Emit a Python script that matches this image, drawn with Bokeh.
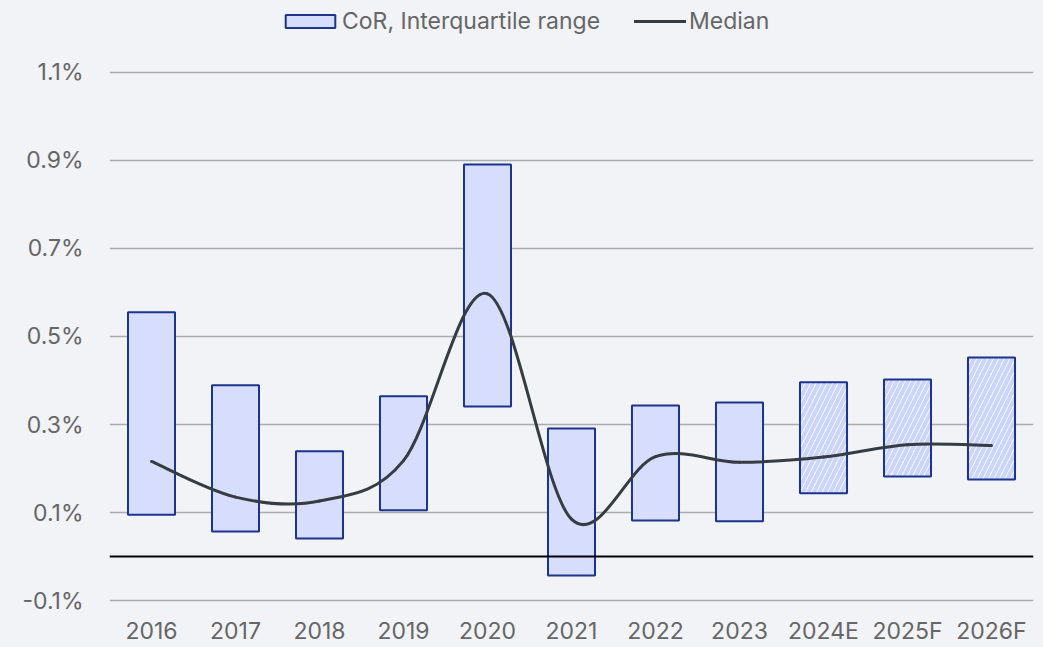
from bokeh.plotting import figure
from bokeh.models import (FixedTicker, PrintfTickFormatter, Span, Legend, LegendItem,
                          Range1d, ColumnDataSource)
from bokeh.embed import file_html
from bokeh.resources import INLINE

# ---------------- data ----------------
years = ["2016", "2017", "2018", "2019", "2020", "2021", "2022", "2023",
         "2024E", "2025F", "2026F"]
q1 = [0.095, 0.057, 0.041, 0.105, 0.341, -0.043, 0.082, 0.080, 0.144, 0.182, 0.175]
q3 = [0.555, 0.389, 0.239, 0.364, 0.891, 0.291, 0.343, 0.350, 0.396, 0.402, 0.452]
median = [0.216, 0.135, 0.126, 0.218, 0.597, 0.085, 0.227, 0.214, 0.226, 0.254, 0.252]
is_forecast = [False] * 8 + [True] * 3
y_ticks = [-0.1, 0.1, 0.3, 0.5, 0.7, 0.9, 1.1]

BG = "#f1f3f7"
TXT = "#666666"
FONT = "Inter"
FS = "23px"

xs = list(range(len(years)))

FRAME_H = 603
p = figure(width=1043, height=647, output_backend="svg", toolbar_location=None,
           x_range=Range1d(-0.5, 10.5), y_range=Range1d(-0.1068, 1.2636),
           min_border_left=109, min_border_right=10, min_border_top=0,
           min_border_bottom=44)
p.background_fill_color = BG
p.border_fill_color = BG
p.outline_line_color = None

# grid
p.xgrid.visible = False
p.ygrid.ticker = FixedTicker(ticks=y_ticks)
p.ygrid.grid_line_color = "#ababab"
p.ygrid.grid_line_width = 1.5

# axes
p.yaxis.ticker = FixedTicker(ticks=y_ticks)
p.yaxis.formatter = PrintfTickFormatter(format="%.1f%%")
p.xaxis.ticker = FixedTicker(ticks=xs)
p.xaxis.major_label_overrides = {i: y for i, y in enumerate(years)}
for ax in (p.xaxis, p.yaxis):
    ax.axis_line_color = None
    ax.major_tick_line_color = None
    ax.minor_tick_line_color = None
    ax.major_label_text_font = FONT
    ax.major_label_text_font_size = FS
    ax.major_label_text_color = TXT
p.yaxis.major_label_standoff = 20
p.xaxis.major_label_standoff = 7

# bars
act = ColumnDataSource(dict(x=[x for x, f in zip(xs, is_forecast) if not f],
                            top=[v for v, f in zip(q3, is_forecast) if not f],
                            bottom=[v for v, f in zip(q1, is_forecast) if not f]))
fc = ColumnDataSource(dict(x=[x for x, f in zip(xs, is_forecast) if f],
                           top=[v for v, f in zip(q3, is_forecast) if f],
                           bottom=[v for v, f in zip(q1, is_forecast) if f]))
bars = p.vbar(x="x", top="top", bottom="bottom", width=0.56, source=act,
              fill_color="#d7ddfc", line_color="#1c348c", line_width=2)
p.vbar(x="x", top="top", bottom="bottom", width=0.56, source=fc,
       fill_color="#fafbff", hatch_pattern="/", hatch_color="#cbd4fb",
       hatch_weight=4, hatch_scale=11, line_color="#1c348c", line_width=2)

# smooth median line (Catmull-Rom -> Bezier segments through the median points)
n = len(median)
x0s, y0s, x1s, y1s, cx0s, cy0s, cx1s, cy1s = [], [], [], [], [], [], [], []
for i in range(n - 1):
    a = max(i - 1, 0)
    d = min(i + 2, n - 1)
    x0s.append(xs[i]); y0s.append(median[i])
    x1s.append(xs[i + 1]); y1s.append(median[i + 1])
    cx0s.append(xs[i] + (xs[i + 1] - xs[a]) / 6.0)
    cy0s.append(median[i] + (median[i + 1] - median[a]) / 6.0)
    cx1s.append(xs[i + 1] - (xs[d] - xs[i]) / 6.0)
    cy1s.append(median[i + 1] - (median[d] - median[i]) / 6.0)
med = p.bezier(x0=x0s, y0=y0s, x1=x1s, y1=y1s, cx0=cx0s, cy0=cy0s, cx1=cx1s, cy1=cy1s,
               line_color="#353d42", line_width=3, line_cap="round")

# zero line
p.add_layout(Span(location=0, dimension="width", line_color="black", line_width=2))

# legends (location = bottom-left corner of legend, in frame pixels)
common = dict(orientation="horizontal", padding=0, margin=0,
              background_fill_alpha=0, border_line_alpha=0,
              label_text_font=FONT, label_text_font_size=FS,
              label_text_color=TXT, glyph_height=16)
LEG_Y = FRAME_H - 35
leg1 = Legend(items=[LegendItem(label="CoR, Interquartile range", renderers=[bars])],
              location=(170, LEG_Y), glyph_width=62, label_standoff=1, **common)
leg2 = Legend(items=[LegendItem(label="Median", renderers=[med])],
              location=(525, LEG_Y), glyph_width=52, label_standoff=3, **common)
p.add_layout(leg1)
p.add_layout(leg2)

html = file_html(p, INLINE)
html = html.replace("</head>", "<style>body{background:%s;}</style></head>" % BG, 1)
open("out.html", "w").write(html)
